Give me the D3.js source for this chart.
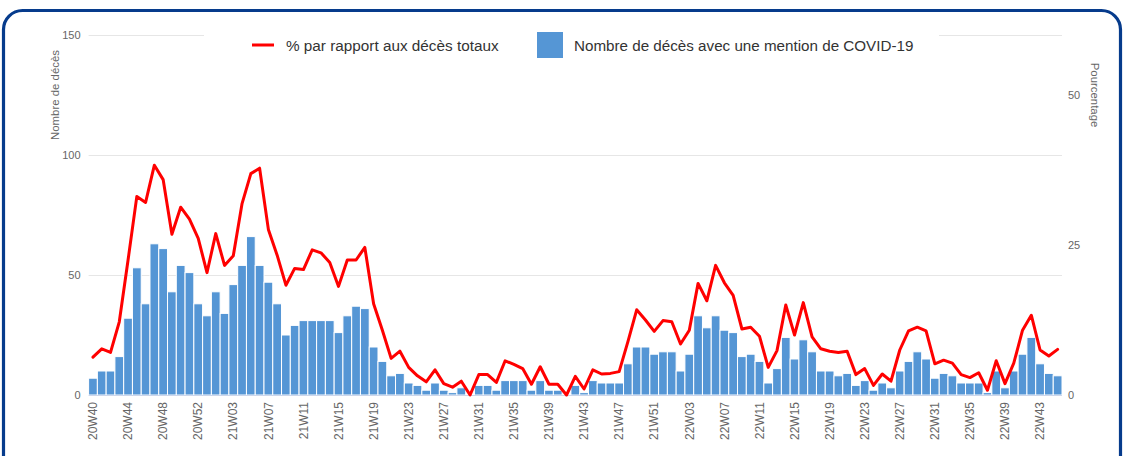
<!DOCTYPE html>
<html lang="fr">
<head>
<meta charset="utf-8">
<title>Décès avec une mention de COVID-19</title>
<script src="https://cdn.jsdelivr.net/npm/d3@7"></script>
<style>
  html, body { margin: 0; padding: 0; background: #ffffff; }
  svg { display: block; font-family: "Liberation Sans", Arial, sans-serif; }
</style>
</head>
<body>
<svg id="chart" width="1124" height="456"></svg>
<script>
// ISO weeks, 2020 W40 to 2022 W45
const weeks = [
  "20W40","20W41","20W42","20W43","20W44","20W45","20W46","20W47","20W48","20W49","20W50","20W51","20W52","20W53",
  "21W01","21W02","21W03","21W04","21W05","21W06","21W07","21W08","21W09","21W10","21W11","21W12","21W13","21W14",
  "21W15","21W16","21W17","21W18","21W19","21W20","21W21","21W22","21W23","21W24","21W25","21W26","21W27","21W28",
  "21W29","21W30","21W31","21W32","21W33","21W34","21W35","21W36","21W37","21W38","21W39","21W40","21W41","21W42",
  "21W43","21W44","21W45","21W46","21W47","21W48","21W49","21W50","21W51","21W52",
  "22W01","22W02","22W03","22W04","22W05","22W06","22W07","22W08","22W09","22W10","22W11","22W12","22W13","22W14",
  "22W15","22W16","22W17","22W18","22W19","22W20","22W21","22W22","22W23","22W24","22W25","22W26","22W27","22W28",
  "22W29","22W30","22W31","22W32","22W33","22W34","22W35","22W36","22W37","22W38","22W39","22W40","22W41","22W42",
  "22W43","22W44","22W45"
];

// Weekly number of deaths with a COVID-19 mention
const deaths = [
  7,10,10,16,32,53,38,63,61,43,54,51,38,33,43,34,46,54,66,
  54,47,38,25,29,31,31,31,31,26,33,37,36,20,14,8,9,5,4,
  2,5,2,1,3,0,4,4,2,6,6,6,2,6,2,2,0,4,1,
  6,5,5,5,13,20,20,17,18,18,10,17,33,28,33,27,26,16,17,
  14,5,11,24,15,23,18,10,10,8,9,4,6,2,5,3,10,14,
  18,15,7,9,8,5,5,5,1,10,3,10,17,24,13,9,8
];

// Share of all deaths (%)
const share = [
  6.3,7.7,7.1,12.2,22.5,33.1,32.1,38.3,35.9,26.8,31.3,29.3,26.1,20.4,26.9,21.6,23.2,31.9,36.9,
  37.8,27.6,23.3,18.3,21.1,20.9,24.2,23.7,22.1,18.1,22.5,22.5,24.6,15.2,10.8,6.1,7.3,4.6,3.2,
  2.2,4.2,1.9,1.3,2.3,0,3.4,3.4,2.1,5.7,5.1,4.4,1.8,4.7,1.8,1.8,0,3.1,1.0,
  4.2,3.5,3.6,3.9,8.9,14.2,12.5,10.6,12.4,12.2,8.5,10.8,18.6,15.7,21.6,18.7,16.6,11.0,11.3,
  9.8,4.6,7.4,15.0,10.0,15.4,9.7,7.7,7.3,7.1,7.3,3.4,4.4,1.6,3.5,2.3,7.5,10.7,
  11.3,10.7,5.2,5.8,5.3,3.4,2.9,3.7,0.8,5.7,1.9,5.3,10.8,13.3,7.5,6.5,7.6
];

const leftTicks = [0, 50, 100, 150];
const rightTicks = [0, 25, 50];
const tickEvery = 4;

const seriesNames = ["% par rapport aux décès totaux", "Nombre de décès avec une mention de COVID-19"];
const axisTitles = ["Nombre de décès", "Pourcentage"];

const plot = { left: 88.6, right: 1062, top: 35, bottom: 395 };
const barColor = "#5596d5";
const lineColor = "#ff0000";
const gridColor = "#e6e6e6";
const labelColor = "#666666";
const fontFamily = "Liberation Sans, Arial, sans-serif";

const svg = d3.select("#chart");

// card frame
svg.append("rect")
  .attr("x", 3.5).attr("y", 10.5)
  .attr("width", 1117).attr("height", 520)
  .attr("rx", 19).attr("ry", 19)
  .attr("fill", "#ffffff")
  .attr("stroke", "#063b8c")
  .attr("stroke-width", 3.2);

const x = d3.scaleBand()
  .domain(weeks)
  .range([plot.left, plot.right])
  .paddingInner(0).paddingOuter(0);

const yLeft = d3.scaleLinear().domain([0, 150]).range([plot.bottom, plot.top]);
const yRight = d3.scaleLinear().domain([0, 60]).range([plot.bottom, plot.top]);

// grid lines
svg.append("g")
  .selectAll("line")
  .data(leftTicks.filter(d => d > 0))
  .join("line")
  .attr("x1", plot.left).attr("x2", plot.right)
  .attr("y1", d => Math.round(yLeft(d)) + 0.5)
  .attr("y2", d => Math.round(yLeft(d)) + 0.5)
  .attr("stroke", gridColor)
  .attr("stroke-width", 1);

// left axis
const gl = svg.append("g")
  .attr("transform", `translate(${plot.left},0)`)
  .call(d3.axisLeft(yLeft).tickValues(leftTicks).tickSize(0).tickPadding(8));
gl.select(".domain").remove();
gl.selectAll("text")
  .attr("fill", labelColor)
  .attr("font-size", 11)
  .attr("font-family", fontFamily);

// right axis
const gr = svg.append("g")
  .attr("transform", `translate(${plot.right},0)`)
  .call(d3.axisRight(yRight).tickValues(rightTicks).tickSize(0).tickPadding(6));
gr.select(".domain").remove();
gr.selectAll("text")
  .attr("fill", labelColor)
  .attr("font-size", 11)
  .attr("font-family", fontFamily);

// axis titles
svg.append("text")
  .attr("transform", "translate(59,95) rotate(-90)")
  .attr("text-anchor", "middle")
  .attr("fill", labelColor)
  .attr("font-size", 11.4)
  .text(axisTitles[0]);

svg.append("text")
  .attr("transform", "translate(1091,95) rotate(90)")
  .attr("text-anchor", "middle")
  .attr("fill", labelColor)
  .attr("font-size", 11.4)
  .text(axisTitles[1]);

// bars
svg.append("g")
  .selectAll("rect")
  .data(deaths)
  .join("rect")
  .attr("x", (d, i) => x(weeks[i]))
  .attr("width", x.bandwidth())
  .attr("y", d => yLeft(d))
  .attr("height", d => plot.bottom - yLeft(d))
  .attr("fill", barColor)
  .attr("stroke", "#ffffff")
  .attr("stroke-width", 1);

// x axis
const gx = svg.append("g")
  .attr("transform", `translate(0,${plot.bottom})`)
  .call(d3.axisBottom(x)
    .tickValues(weeks.filter((w, i) => i % tickEvery === 0))
    .tickSize(0).tickPadding(0));
gx.select(".domain")
  .attr("stroke", "#ccd6eb")
  .attr("d", `M${plot.left},0.5H${plot.right}`);
gx.selectAll("text")
  .attr("fill", labelColor)
  .attr("font-size", 12)
  .attr("font-family", fontFamily)
  .attr("text-anchor", "end")
  .attr("transform", "translate(0,7) rotate(-90)")
  .attr("x", 0).attr("y", 0).attr("dy", "0.35em");

// percentage line
const line = d3.line()
  .x((d, i) => x(weeks[i]) + x.bandwidth() / 2)
  .y(d => yRight(d));

svg.append("path")
  .datum(share)
  .attr("d", line)
  .attr("fill", "none")
  .attr("stroke", lineColor)
  .attr("stroke-width", 3)
  .attr("stroke-linejoin", "round")
  .attr("stroke-linecap", "round");

// legend
const legend = svg.append("g");
legend.append("rect")
  .attr("x", 204).attr("y", 22)
  .attr("width", 735).attr("height", 46)
  .attr("fill", "#ffffff");

legend.append("line")
  .attr("x1", 252).attr("x2", 274)
  .attr("y1", 45).attr("y2", 45)
  .attr("stroke", lineColor)
  .attr("stroke-width", 3);
legend.append("text")
  .attr("x", 286).attr("y", 50.5)
  .attr("fill", "#333333")
  .attr("font-size", 15.3)
  .text(seriesNames[0]);

legend.append("rect")
  .attr("x", 537).attr("y", 32)
  .attr("width", 26).attr("height", 26)
  .attr("fill", barColor);
legend.append("text")
  .attr("x", 574).attr("y", 50.5)
  .attr("fill", "#333333")
  .attr("font-size", 15.2)
  .text(seriesNames[1]);
</script>
</body>
</html>
